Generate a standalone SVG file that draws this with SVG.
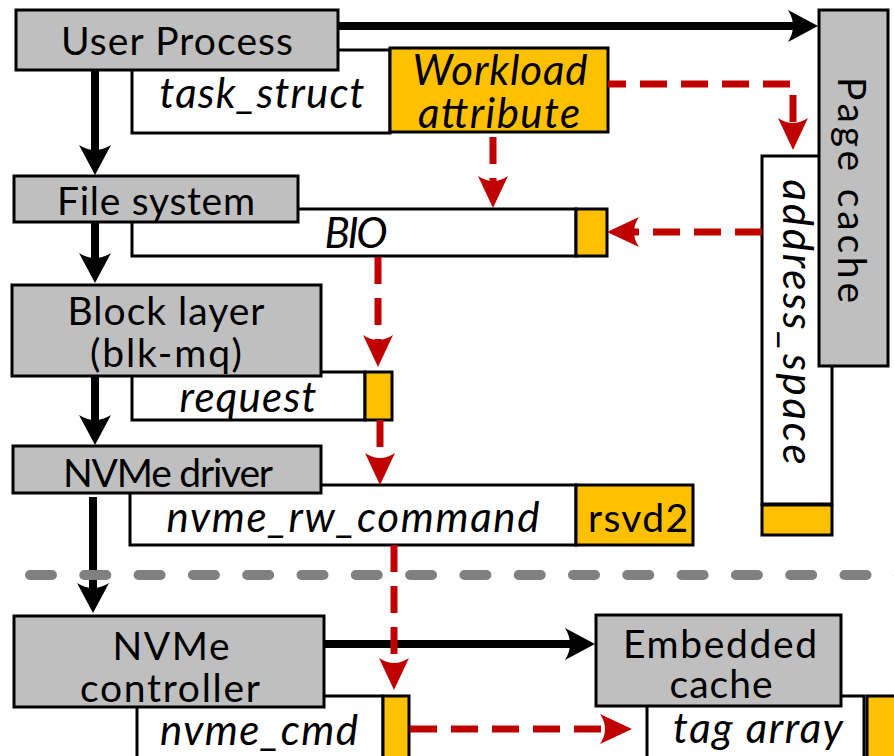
<svg xmlns="http://www.w3.org/2000/svg" width="894" height="756" viewBox="0 0 894 756">
  <style>
    .main { fill: #BFBFBF; stroke: #000; stroke-width: 3; }
    .sub { fill: #FFFFFF; stroke: #000; stroke-width: 3; }
    .tag { fill: #FFC000; stroke: #000; stroke-width: 3; }
    text { font-family: Lato, "Open Sans", "Liberation Sans", sans-serif; fill: #000; text-anchor: middle; }
    .lbl { font-size: 39px; }
    .fld { font-size: 42px; font-style: italic; }
    .flow { fill: none; stroke: #000; stroke-width: 8; }
    .attr { fill: none; stroke: #C00000; stroke-width: 7; stroke-dasharray: 27 14; }
    .split { fill: none; stroke: #808080; stroke-width: 10; stroke-linecap: round; stroke-dasharray: 22 32.3; }
  </style>
  <defs>
    <marker id="ah-black" markerUnits="userSpaceOnUse" markerWidth="40" markerHeight="40" viewBox="-20 -20 40 40" refX="0" refY="0" orient="auto" overflow="visible">
      <path d="M22,0 L-8,-16 Q2,0 -8,16 Z" fill="#000"/>
    </marker>
    <marker id="ah-red" markerUnits="userSpaceOnUse" markerWidth="40" markerHeight="40" viewBox="-20 -20 40 40" refX="0" refY="0" orient="auto" overflow="visible">
      <path d="M24,0 L-8,-15 Q2,0 -8,15 Z" fill="#C00000"/>
    </marker>
  </defs>

  <rect width="894" height="756" fill="#FFFFFF"/>

  <!-- kernel structures -->
  <g id="task_struct">
    <rect class="sub" x="132" y="50" width="258" height="83"/>
    <text class="fld" x="262" y="108" textLength="205">task_struct</text>
  </g>
  <g id="workload_attribute">
    <rect class="tag" x="390" y="48" width="218" height="84"/>
    <text class="fld" x="500" y="85" textLength="175">Workload</text>
    <text class="fld" x="499" y="128" textLength="162">attribute</text>
  </g>
  <g id="bio">
    <rect class="sub" x="132" y="209" width="444" height="47"/>
    <rect class="tag" x="576" y="209" width="31" height="47"/>
    <text class="fld" x="356" y="248" textLength="63">BIO</text>
  </g>
  <g id="request">
    <rect class="sub" x="132" y="372" width="233" height="48"/>
    <rect class="tag" x="365" y="372" width="27" height="48"/>
    <text class="fld" x="248" y="412" textLength="137">request</text>
  </g>
  <g id="nvme_rw_command">
    <rect class="sub" x="130" y="485" width="446" height="60"/>
    <rect class="tag" x="576" y="485" width="117" height="60"/>
    <text class="fld" x="353" y="532" textLength="373">nvme_rw_command</text>
    <text class="lbl" x="638" y="532" textLength="100">rsvd2</text>
  </g>
  <g id="address_space">
    <rect class="sub" x="762" y="156" width="70" height="348"/>
    <rect class="tag" x="762" y="505" width="70" height="30"/>
    <text class="fld" transform="translate(783,322) rotate(90)" textLength="285">address_space</text>
  </g>
  <g id="nvme_cmd">
    <rect class="sub" x="137" y="696" width="246" height="80"/>
    <rect class="tag" x="383" y="696" width="26" height="80"/>
    <text class="fld" x="259" y="745" textLength="198">nvme_cmd</text>
  </g>
  <g id="tag_array">
    <rect class="sub" x="647" y="696" width="217" height="80"/>
    <rect class="tag" x="867" y="696" width="40" height="80"/>
    <text class="fld" x="758" y="743" textLength="170">tag array</text>
  </g>

  <!-- layers -->
  <g id="user_process">
    <rect class="main" x="16" y="10" width="322" height="60"/>
    <text class="lbl" x="177" y="55" textLength="232">User Process</text>
  </g>
  <g id="file_system">
    <rect class="main" x="14" y="176" width="284" height="46"/>
    <text class="lbl" x="156" y="215" textLength="198">File system</text>
  </g>
  <g id="block_layer">
    <rect class="main" x="12" y="285" width="309" height="91"/>
    <text class="lbl" x="166" y="325" textLength="197">Block layer</text>
    <text class="lbl" x="166" y="367" textLength="152">(blk-mq)</text>
  </g>
  <g id="nvme_driver">
    <rect class="main" x="13" y="446" width="308" height="47"/>
    <text class="lbl" x="168" y="487" textLength="210">NVMe driver</text>
  </g>
  <g id="page_cache">
    <rect class="main" x="819" y="10" width="69" height="356"/>
    <text class="lbl" transform="translate(838,190) rotate(90)" textLength="226">Page cache</text>
  </g>
  <g id="nvme_controller">
    <rect class="main" x="14" y="616" width="310" height="91"/>
    <text class="lbl" x="171" y="660" textLength="117">NVMe</text>
    <text class="lbl" x="170" y="702" textLength="180">controller</text>
  </g>
  <g id="embedded_cache">
    <rect class="main" x="596" y="615" width="245" height="91"/>
    <text class="lbl" x="720" y="658" textLength="194">Embedded</text>
    <text class="lbl" x="721" y="698" textLength="103">cache</text>
  </g>

  <!-- connectors -->
  <g id="connectors">
    <path class="flow" d="M338,26 H796" marker-end="url(#ah-black)"/>
    <path class="flow" d="M95,70 V153" marker-end="url(#ah-black)"/>
    <path class="flow" d="M95,222 V261" marker-end="url(#ah-black)"/>
    <path class="flow" d="M95,376 V423" marker-end="url(#ah-black)"/>
    <path class="flow" d="M93,497 V591" marker-end="url(#ah-black)"/>
    <path class="flow" d="M324,644 H573" marker-end="url(#ah-black)"/>

    <path class="attr" d="M608,84 H793 V126" stroke-dashoffset="9" marker-end="url(#ah-red)"/>
    <path class="attr" d="M493,132 V184" stroke-dashoffset="36" marker-end="url(#ah-red)"/>
    <path class="attr" d="M762,232 H631" marker-end="url(#ah-red)"/>
    <path class="attr" d="M378,257 V343" marker-end="url(#ah-red)"/>
    <path class="attr" d="M380,420 V461" marker-end="url(#ah-red)"/>
    <path class="attr" d="M394,545 V666" marker-end="url(#ah-red)"/>
    <path class="attr" d="M410,729 H608" marker-end="url(#ah-red)"/>

    <path class="split" d="M30,575 H900"/>
  </g>
</svg>
